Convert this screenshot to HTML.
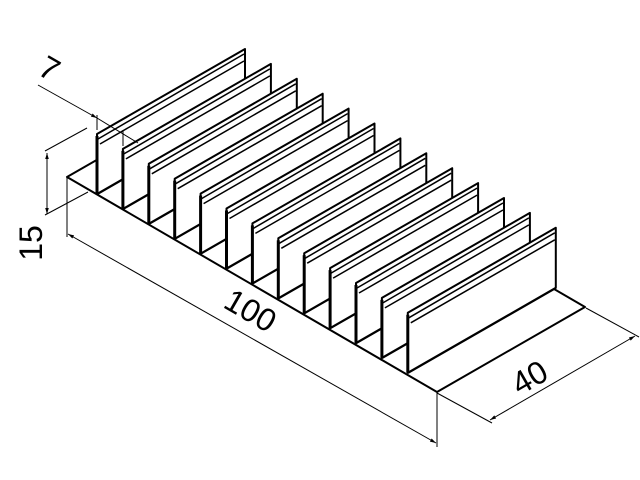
<!DOCTYPE html>
<html><head><style>html,body{margin:0;padding:0;background:#fff;}svg{display:block}</style></head>
<body>
<svg width="640" height="480" viewBox="0 0 640 480" xmlns="http://www.w3.org/2000/svg">
<defs>
<marker id="a" viewBox="0 0 10 10" refX="10" refY="5" markerWidth="8" markerHeight="6" orient="auto-start-reverse"><path d="M0,2 L10,5 L0,8 z" fill="#000"/></marker>
<g id="fin" stroke="#000" fill="#fff" stroke-linejoin="round">
<line x1="0" y1="0" x2="148" y2="-85" stroke-width="2.5"/>
<polygon points="0,0 0,-60 148,-145 148,-85" stroke-width="2"/>
<line x1="1" y1="-55" x2="147" y2="-140" stroke-width="1.5"/>
<line x1="3" y1="-50" x2="147" y2="-133" stroke-width="1.5"/>
<line x1="0" y1="-58" x2="0" y2="0" stroke-width="3"/>
</g>
</defs>
<polygon points="67,177 437,392 585,307 215,92" fill="#fff" stroke="#000" stroke-width="2" stroke-linejoin="round"/>
<use href="#fin" x="97" y="194"/>
<use href="#fin" x="122.9" y="208.9"/>
<use href="#fin" x="148.8" y="223.8"/>
<use href="#fin" x="174.7" y="238.7"/>
<use href="#fin" x="200.6" y="253.6"/>
<use href="#fin" x="226.5" y="268.5"/>
<use href="#fin" x="252.4" y="283.4"/>
<use href="#fin" x="278.3" y="298.3"/>
<use href="#fin" x="304.2" y="313.2"/>
<use href="#fin" x="330.1" y="328.1"/>
<use href="#fin" x="356" y="343"/>
<use href="#fin" x="381.9" y="357.9"/>
<use href="#fin" x="407.8" y="372.8"/>
<g stroke="#000" stroke-width="1" fill="none">
<line x1="67" y1="177" x2="67" y2="237"/>
<line x1="437" y1="392" x2="437" y2="447"/>
<line x1="68" y1="234" x2="436" y2="443" marker-start="url(#a)" marker-end="url(#a)"/>
<line x1="586" y1="308" x2="639" y2="337"/>
<line x1="437" y1="393" x2="492" y2="423"/>
<line x1="490" y1="420" x2="635" y2="336" marker-start="url(#a)" marker-end="url(#a)"/>
<line x1="47" y1="153" x2="47" y2="214" marker-start="url(#a)" marker-end="url(#a)"/>
<line x1="45" y1="215" x2="88" y2="192"/>
<line x1="45" y1="151" x2="87" y2="128"/>
<line x1="38" y1="85" x2="97" y2="118" marker-end="url(#a)"/>
<line x1="97" y1="118" x2="138" y2="143"/>
<line x1="97" y1="115" x2="97" y2="130"/>
<line x1="123" y1="130" x2="123" y2="146"/>
</g>
<g font-family="Liberation Sans, sans-serif" font-size="32" fill="#000">
<text x="0" y="0" transform="translate(245,320) rotate(30)" text-anchor="middle">100</text>
<text x="0" y="0" transform="translate(535,387) rotate(-30)" text-anchor="middle">40</text>
<text x="0" y="0" transform="translate(42,243) rotate(-90)" text-anchor="middle">15</text>
<text x="0" y="0" transform="translate(44,78) rotate(30)" text-anchor="middle">7</text>
</g>
</svg>
</body></html>
